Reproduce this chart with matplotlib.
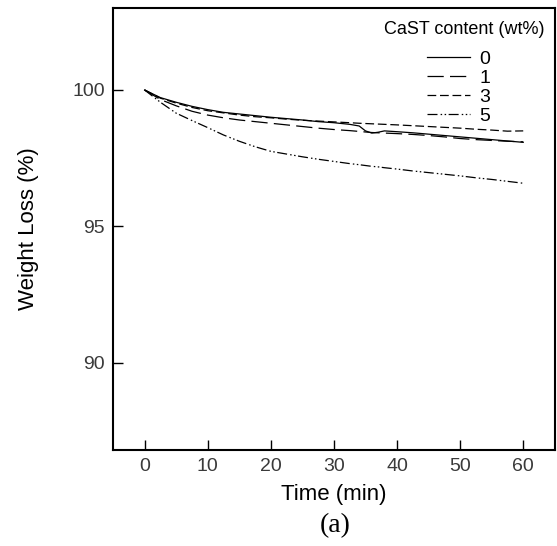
import matplotlib
matplotlib.use("Agg")
import matplotlib.pyplot as plt

plt.rcParams['font.family'] = ['Liberation Sans', 'DejaVu Sans']

time = [0, 2.5, 5, 7.5, 10, 12.5, 15, 17.5, 20, 22.5, 25, 27.5, 30, 32.5, 34, 35, 36, 37, 38, 40, 42.5, 45, 47.5, 50, 52.5, 55, 57.5, 60]
w0 = [100.0, 99.72, 99.55, 99.40, 99.28, 99.18, 99.12, 99.06, 99.00, 98.95, 98.90, 98.84, 98.80, 98.74, 98.68, 98.50, 98.42, 98.45, 98.50, 98.47, 98.43, 98.38, 98.33, 98.28, 98.23, 98.18, 98.13, 98.08]
w1 = [100.0, 99.65, 99.42, 99.22, 99.08, 98.98, 98.90, 98.84, 98.78, 98.72, 98.66, 98.60, 98.55, 98.51, 98.48, 98.46, 98.44, 98.43, 98.42, 98.40, 98.37, 98.33, 98.28, 98.22, 98.18, 98.15, 98.12, 98.10]
w3 = [100.0, 99.70, 99.52, 99.36, 99.24, 99.16, 99.08, 99.02, 98.98, 98.93, 98.89, 98.86, 98.83, 98.80, 98.78, 98.77, 98.76, 98.75, 98.74, 98.72, 98.69, 98.66, 98.63, 98.60, 98.56, 98.53, 98.49, 98.50]
w5 = [100.0, 99.55, 99.15, 98.88, 98.62, 98.35, 98.12, 97.92, 97.75, 97.65, 97.55, 97.46, 97.38, 97.30, 97.26, 97.23, 97.20, 97.18, 97.15, 97.10, 97.03, 96.97, 96.91, 96.85, 96.78, 96.72, 96.65, 96.58]
labels = ['0', '1', '3', '5']
legend_title = 'CaST content (wt%)'

fig = plt.figure(figsize=(5.57, 5.46), dpi=100)
ax = fig.add_axes([0.203, 0.176, 0.793, 0.809])

styles = ['-', (0, (13, 5)), (0, (7, 3)), (0, (8, 2.5, 1.2, 2, 1.2, 2))]
for w, lab, ls in zip([w0, w1, w3, w5], labels, styles):
    ax.plot(time, w, color='black', linestyle=ls, linewidth=0.9, label=lab)

ax.set_xlim(-5, 65)
ax.set_ylim(86.8, 103.0)
ax.set_xticks([0, 10, 20, 30, 40, 50, 60])
ax.set_yticks([90, 95, 100])
ax.tick_params(direction='in', length=7, labelsize=14, labelcolor='#3a3a3a', width=1.0, pad=6)
for s in ax.spines.values():
    s.set_linewidth(1.5)
ax.set_xlabel('Time (min)', fontsize=16, labelpad=6)
ax.set_ylabel('Weight Loss (%)', fontsize=16, labelpad=24)

fig.text(545 / 557, 1 - 30 / 546, legend_title, fontsize=13, ha='right', va='center')
leg = ax.legend(loc='upper left', bbox_to_anchor=(427 / 557, 1 - 50 / 546),
                bbox_transform=fig.transFigure, frameon=False,
                fontsize=14, handlelength=2.2, handletextpad=0.5,
                labelspacing=0.08, borderaxespad=0, borderpad=0)

fig.text(0.601, 0.038, '(a)', fontsize=20, family=['Liberation Serif'], ha='center', va='center')

fig.savefig('out.png', dpi=100)
